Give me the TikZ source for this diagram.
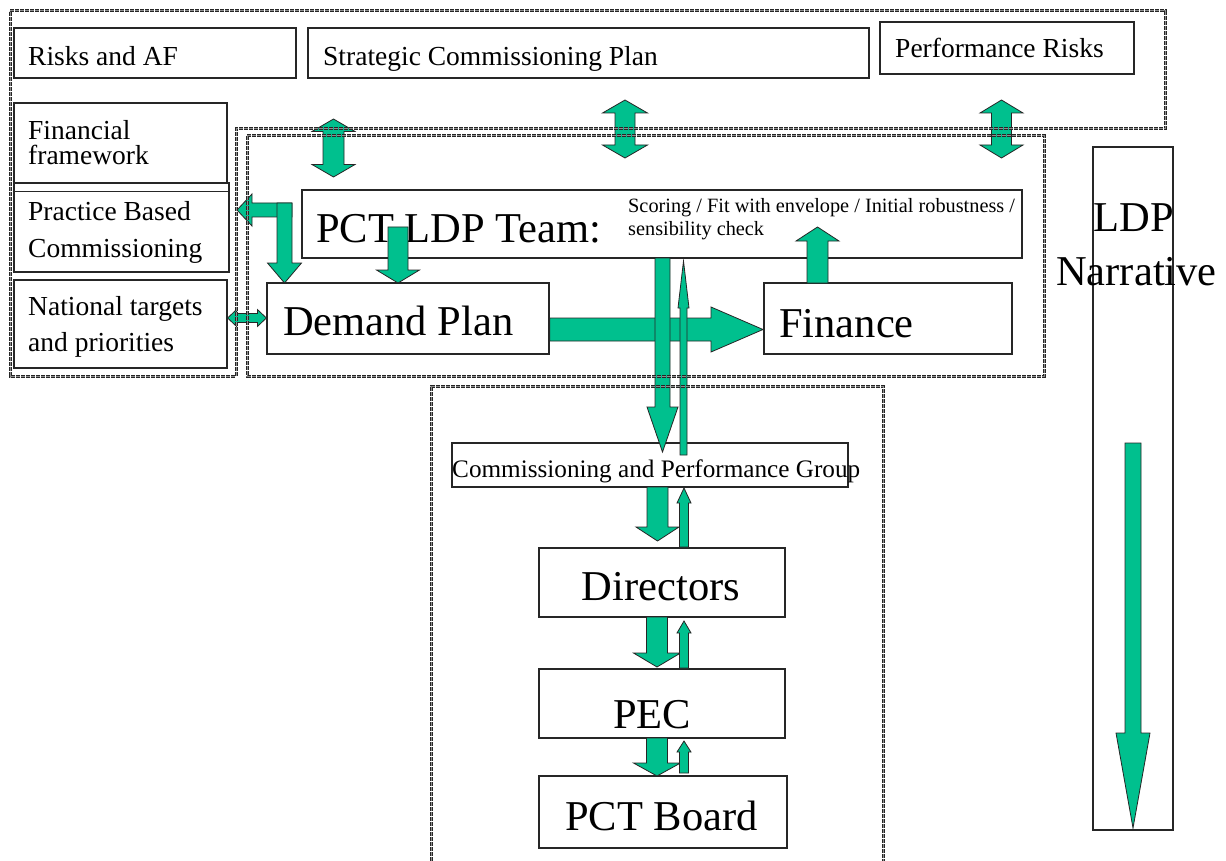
\documentclass[tikz,border=0pt]{standalone}
\usepackage{fontspec}
\setmainfont{Liberation Serif}
\usetikzlibrary{calc,fit}
\definecolor{arrgreen}{RGB}{0,192,142}
\tikzset{
 box/.style={draw=black!85, line width=1.2pt, fill=white, inner sep=0pt},
 dline/.style={draw=black!85, line width=1pt, double=black!45, double distance=1pt, dash pattern=on 4pt off 1pt},
 arr/.style={fill=arrgreen, draw=black!85, line width=0.8pt, line join=miter},
 txt/.style={inner sep=0pt, anchor=base west},
 ctxt/.style={inner sep=0pt, anchor=base},
 fmed/.style={font=\fontsize{27.5}{30}\selectfont},
 fbig/.style={font=\fontsize{42.5}{46}\selectfont},
 fcpg/.style={font=\fontsize{25.2}{28}\selectfont},
 fsmall/.style={font=\fontsize{20.3}{22}\selectfont},
}
\newcommand\blockarr[6][]{%
 \coordinate (bA) at (#2);
 \coordinate (bB) at (#3);
 \coordinate (bH) at ($(bB)!#6!(bA)$);
 \filldraw[arr,#1] ($(bA)!#4!90:(bB)$) -- ($(bH)!#4!-90:(bA)$) -- ($(bH)!#5!-90:(bA)$) -- (bB) -- ($(bH)!#5!90:(bA)$) -- ($(bH)!#4!90:(bA)$) -- ($(bA)!#4!-90:(bB)$) -- cycle;
}
\newcommand\dblarr[6][]{%
 \coordinate (bA) at (#2);
 \coordinate (bB) at (#3);
 \coordinate (bH) at ($(bA)!#6!(bB)$);
 \coordinate (bK) at ($(bB)!#6!(bA)$);
 \filldraw[arr,#1] (bA) -- ($(bH)!#5!90:(bB)$) -- ($(bH)!#4!90:(bB)$) -- ($(bK)!#4!-90:(bA)$) -- ($(bK)!#5!-90:(bA)$) -- (bB) -- ($(bK)!#5!90:(bA)$) -- ($(bK)!#4!90:(bA)$) -- ($(bH)!#4!-90:(bB)$) -- ($(bH)!#5!-90:(bB)$) -- cycle;
}
\begin{document}
\begin{tikzpicture}[x=1pt,y=-1pt]
\fill[white] (0,0) rectangle (1226,861);
\useasboundingbox (0,0) rectangle (1226,861);

% boxes
\node[box, fit={(14,28) (296,78)}] (risks) {};
\node[box, fit={(308,28) (869,78)}] (scp) {};
\node[box, fit={(880,22) (1134,74)}] (perf) {};
\node[box, fit={(14,103) (227,183)}] (fin) {};
\node[box, fit={(14,183) (229,272)}] (pbc) {};
\draw[black!85, line width=1.2pt] ([yshift=-9pt]pbc.north west) -- ([yshift=-9pt]pbc.north east);
\node[box, fit={(14,280) (227,368)}] (nat) {};
\node[box, fit={(302,190) (1022,258)}] (team) {};
\node[box, fit={(267,283) (549,354)}] (demand) {};
\node[box, fit={(764,283) (1012,354)}] (finance) {};
\node[box, fit={(452,443) (848,487)}] (cpg) {};
\node[box, fit={(539,548) (785,617)}] (dir) {};
\node[box, fit={(539,669) (785,738)}] (pec) {};
\node[box, fit={(539,776) (787,848)}] (board) {};
\node[box, fill=none, fit={(1093,147) (1173,830)}] (ldp) {};

% texts
\node[txt,fmed] (risksT) at (28,66) {Risks and AF};
\node[txt,fmed] (scpT) at (323,66) {Strategic Commissioning Plan};
\node[txt,fmed] (perfT) at (895,58) {Performance Risks};
\node[txt,fmed] (finT1) at (28,140) {Financial};
\node[txt,fmed] (finT2) at (28,165) {framework};
\node[txt,fmed] (pbcT1) at (28,221) {Practice Based};
\node[txt,fmed] (pbcT2) at (28,257) {Commissioning};
\node[txt,fmed] (natT1) at (28,315) {National targets};
\node[txt,fmed] (natT2) at (28,351) {and priorities};
\node[txt,fbig] (teamT) at (316,243) {PCT LDP Team:};
\node[txt,fsmall] (noteT1) at (628,213) {Scoring / Fit with envelope / Initial robustness /};
\node[txt,fsmall] (noteT2) at (628,236) {sensibility check};
\node[txt,fbig] (demandT) at (283,335) {Demand Plan};
\node[txt,fbig] (financeT) at (779,337) {Finance};
\node[txt,fcpg] (cpgT) at (452,477) {Commissioning and Performance Group};
\node[ctxt,fbig] (dirT) at (661,600) {Directors};
\node[txt,fbig] (pecT) at (613,728) {PEC};
\node[ctxt,fbig] (boardT) at (661.5,830) {PCT Board};
\node[ctxt,fbig] (ldpT1) at (1133.5,232) {LDP};
\node[ctxt,fbig] (ldpT2) at (1136.5,285) {Narrative};

% arrows
\dblarr{333.5,119}{333.5,177}{10.5pt}{21.5pt}{12.5pt}
\dblarr{625,100}{625,158}{10pt}{22.5pt}{13pt}
\dblarr{1001.5,100}{1001.5,158}{10pt}{21.5pt}{13pt}
\blockarr{292,210}{237,210}{7pt}{16pt}{15pt}
\blockarr{284.5,203}{284.5,283}{7.5pt}{17pt}{20pt}
\blockarr{398,227}{398,283}{10pt}{21.5pt}{13pt}
\dblarr{nat.east |- 0,318}{demand.west |- 0,318}{4.5pt}{8.5pt}{9pt}
\blockarr{[yshift=-11pt]demand.east}{763,329.5}{11.5pt}{22.5pt}{52pt}
\blockarr{817.5,283}{817.5,227}{10.5pt}{21.5pt}{14pt}
\blockarr{662.5,258}{662.5,452}{7.5pt}{15.5pt}{45pt}
\blockarr{683.5,455}{683.5,261}{3.5pt}{5.5pt}{47pt}
\blockarr{657.5,487}{657.5,541}{10.5pt}{21.5pt}{14pt}
\blockarr{684,547}{684,488}{4.5pt}{7pt}{15pt}
\blockarr{657,617}{657,667}{10.5pt}{23.5pt}{14pt}
\blockarr{684,668}{684,621}{4.5pt}{7pt}{12pt}
\blockarr{657,738}{657,776}{10.5pt}{23.5pt}{13pt}
\blockarr{684,773}{684,741}{4.5pt}{7pt}{11pt}
\blockarr{1133,443}{1133,828}{8pt}{17pt}{95pt}

% dashed group outlines
\draw[dline] (10,11) -- (1165,11) -- (1165,129) -- (236,129) -- (236,376) -- (10,376) -- cycle;
\draw[dline] (247,136) rectangle (1044,376);
\draw[dline] (431,861) -- (431,386) -- (883,386) -- (883,861);
\end{tikzpicture}
\end{document}
